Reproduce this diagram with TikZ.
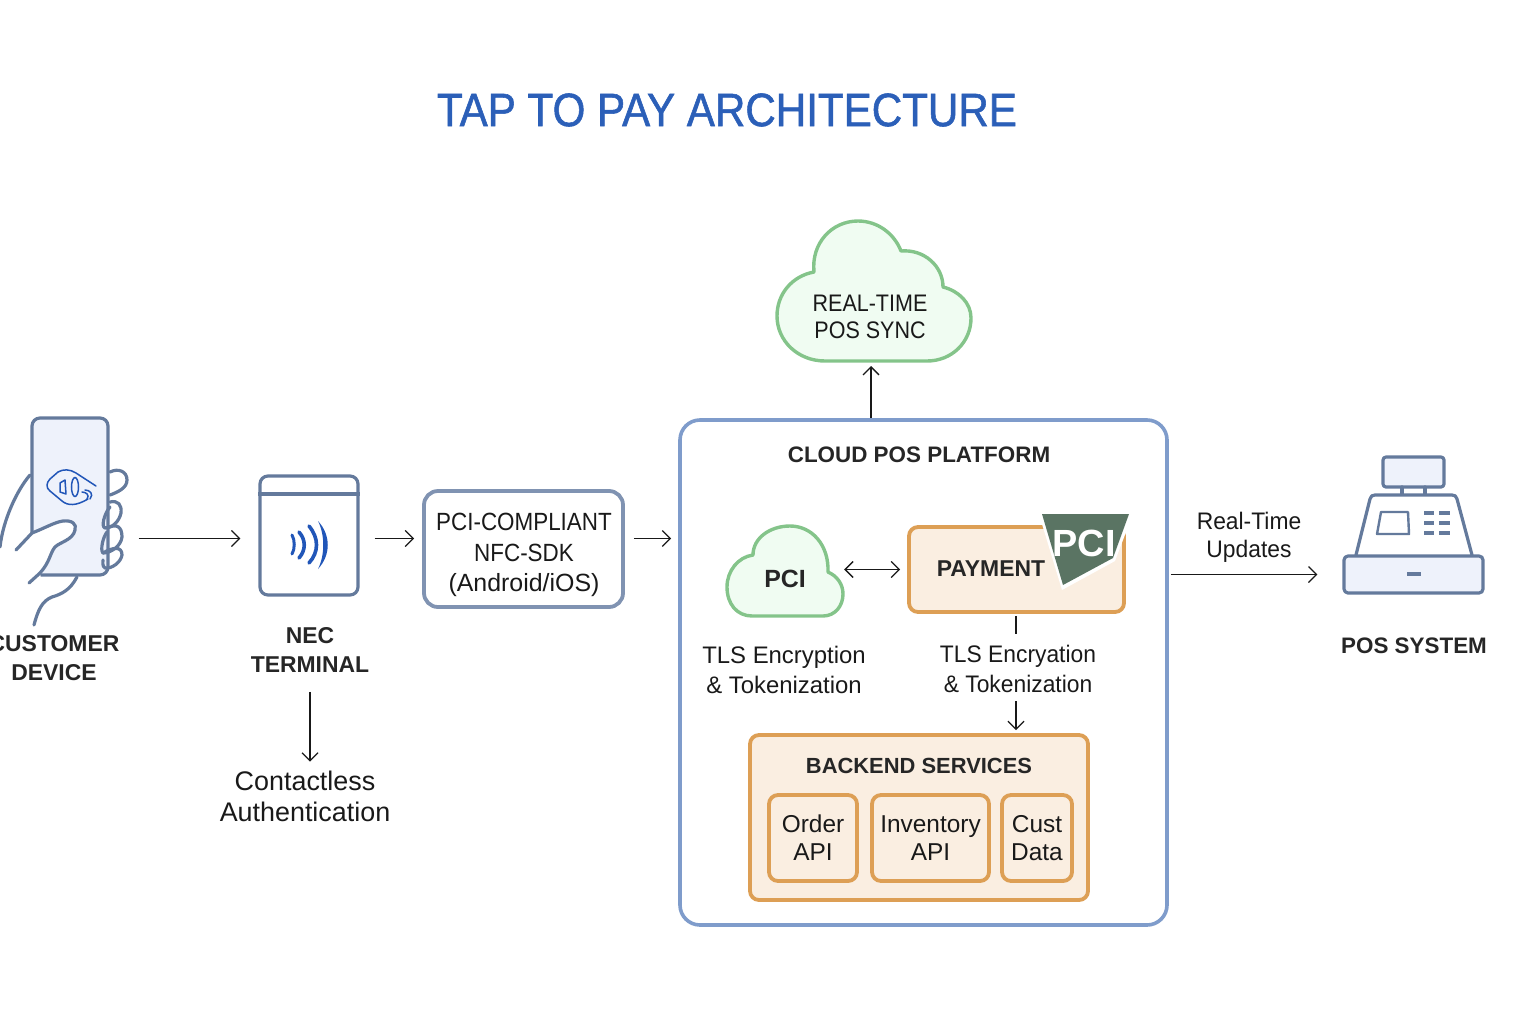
\documentclass[tikz,border=0pt]{standalone}
\usepackage{fontspec}
\setmainfont{Liberation Sans}
\newfontfamily\narrowfont[FakeStretch=0.9]{Liberation Sans}
\newfontfamily\slimfont[FakeStretch=0.955]{Liberation Sans}
\newfontfamily\titlefont[FakeStretch=0.9,FakeBold=1.2]{Liberation Sans}
\usetikzlibrary{arrows.meta}
\definecolor{titleblue}{HTML}{2B5FB8}
\definecolor{iconblue}{HTML}{647A9C}
\definecolor{iconfill}{HTML}{EEF2FB}
\definecolor{wave}{HTML}{2156B8}
\definecolor{platformblue}{HTML}{7F9CCB}
\definecolor{sdkgray}{HTML}{8093B2}
\definecolor{orangeline}{HTML}{DD9F55}
\definecolor{orangefill}{HTML}{FAEEE1}
\definecolor{greenline}{HTML}{84C48A}
\definecolor{greenfill}{HTML}{F0FCF2}
\definecolor{badge}{HTML}{5A7463}
\tikzset{
  bodytext/.style={font=\fontsize{24}{30}\selectfont,align=center,text=black!90},
  apitext/.style={font=\fontsize{24.5}{28}\selectfont,align=center,text=black!90},
  headtext/.style={font=\fontsize{23}{29}\selectfont\bfseries,align=center,text=black!85},
  icon/.style={draw=iconblue,line width=3.2bp,line cap=round,line join=round},
  box/.style={draw=orangeline,fill=orangefill,line width=3.8bp,rounded corners=9bp,inner sep=0pt},
  flow/.style={-{Straight Barb[length=8bp,width=16bp]},line width=1.3bp,black!90},
  cloudline/.style={draw=greenline,fill=greenfill,line width=3.4bp,line join=round}
}
\begin{document}
\begin{tikzpicture}[x=1bp,y=-1bp]
\useasboundingbox (0,0) rectangle (1536,1024);
\node[font=\fontsize{47}{50}\selectfont\titlefont,text=titleblue] (title) at (727,110) {TAP TO PAY ARCHITECTURE};

% customer device
\node[icon,fill=iconfill,rounded corners=8bp,minimum width=76bp,minimum height=157bp,inner sep=0pt] (phone) at (70,496.5) {};
\fill[white] (32,533) .. controls (45,528) and (55,522) .. (63,521) .. controls (72,520) and (77,524) .. (75,530) .. controls (73,540) and (60,542) .. (55,547) .. controls (50,553) and (50,562) .. (40,573) -- (43,590) -- (0,590) -- (0,533) -- cycle;
\draw[icon] (30,475) .. controls (17,490) and (3,520) .. (0,547);
\draw[icon] (16,550) -- (32,533) .. controls (45,528) and (55,522) .. (63,521) .. controls (72,520) and (77,524) .. (75,530) .. controls (73,540) and (60,542) .. (55,547) .. controls (50,553) and (50,562) .. (40,573) -- (29,583);
\draw[icon] (77,577) .. controls (70,590) and (62,594) .. (52,597) .. controls (42,601) and (38,610) .. (34,625);
\draw[icon] (110,472) .. controls (118,468) and (127,471) .. (127,480) .. controls (127,488) and (118,492) .. (110,495);
\draw[icon] (110,502) .. controls (118,500) and (122,505) .. (121,513) .. controls (119,522) and (112,528) .. (105,528) .. controls (101,527) and (104,514) .. (110,507);
\draw[icon] (107,528) .. controls (117,523) and (122,527) .. (122,537) .. controls (121,546) and (111,553) .. (103,553) .. controls (100,550) and (103,537) .. (107,532);
\draw[icon] (103,553) .. controls (113,547) and (122,546) .. (122,555) .. controls (121,562) and (112,569) .. (105,568) .. controls (102,566) and (103,562) .. (103,560);
\draw[wave,line width=1.5bp,line join=round,line cap=round] (96,486) -- (76,473) .. controls (70,469) and (63,469) .. (58,472) -- (50,479) .. controls (46,483) and (46,488) .. (50,491) -- (62,501) .. controls (68,506) and (76,506) .. (88,499);
\draw[wave,line width=1.5bp,line join=round] (60,483) -- (65,480) -- (66,494) -- (60,492) -- cycle;
\draw[wave,line width=1.5bp] (75,487) ellipse (3.5bp and 9.5bp);
\draw[wave,line width=1.5bp,line cap=round] (82,492) .. controls (86,492) and (90,495) .. (87,499);
\draw[wave,line width=1.5bp,line cap=round] (85,490) .. controls (90,490) and (94,494) .. (90,499);
\node[headtext] (customer) at (54,658) {CUSTOMER\\DEVICE};

% terminal
\node[icon,rounded corners=8bp,minimum width=98bp,minimum height=119bp,inner sep=0pt] (terminal) at (309,535.5) {};
\draw[icon,line cap=butt] (terminal.west |- 0,494) -- (terminal.east |- 0,494);
\draw[wave,line width=3bp,line cap=round] (292,535) .. controls (295,540) and (295,549) .. (292,554);
\draw[wave,line width=3.6bp,line cap=round] (299,532) .. controls (306,540) and (306,550) .. (299,558);
\draw[wave,line width=3.6bp,line cap=round] (309,526) .. controls (319,538) and (319,552) .. (309,563);
\fill[wave] (318,521) .. controls (331,535) and (331,555) .. (318,569) .. controls (325,555) and (325,535) .. (318,521) -- cycle;
\node[headtext] (nec) at (310,650) {NEC\\TERMINAL};
\node[bodytext,font=\fontsize{27}{31}\selectfont] (contactless) at (305,796.5) {Contactless\\Authentication};

% sdk
\node[draw=sdkgray,line width=3.8bp,rounded corners=14bp,minimum width=199bp,minimum height=116bp,inner sep=0pt] (sdk) at (523.5,549) {};
\node[bodytext,font=\fontsize{25}{30.5}\selectfont] (sdklabel) at (524,555) {{\narrowfont PCI-COMPLIANT}\\{\narrowfont NFC-SDK}\\(Android/iOS)};

% cloud platform
\node[draw=platformblue,line width=3.6bp,rounded corners=20bp,minimum width=487bp,minimum height=505bp,inner sep=0pt] (platform) at (923.5,672.5) {};
\node[headtext,font=\fontsize{22.5}{29}\selectfont\bfseries] (platformtitle) at (919,455) {CLOUD POS PLATFORM};

\node[minimum width=116bp,minimum height=91bp,inner sep=0pt] (pcicloud) at (785,571) {};
\draw[cloudline] (753,555) .. controls (738,557) and (727,571) .. (727,587) .. controls (727,604) and (737,616) .. (752,616) -- (823,616) .. controls (835,616) and (843,606) .. (843,594) .. controls (843,584) and (837,576) .. (828,572) .. controls (829,545) and (812,526) .. (790,526) .. controls (770,526) and (753,538) .. (753,555) -- cycle;
\node[headtext,font=\fontsize{25}{29}\selectfont\bfseries] (pcilabel) at (785,579) {PCI};

\node[box,minimum width=215bp,minimum height=85bp] (payment) at (1016.5,569.5) {};
\node[headtext] (paymentlabel) at (991,569) {PAYMENT};
\fill[white] (1038,511) -- (1134,511) -- (1115,561) -- (1062,590) -- cycle;
\fill[badge] (1042,514) -- (1129,514) -- (1113,558) -- (1063,585) -- cycle;
\node[font=\fontsize{38}{40}\selectfont\bfseries,text=white] (badgelabel) at (1084,543) {PCI};

\node[bodytext] (tlsleft) at (784,670) {TLS Encryption\\\& Tokenization};
\node[bodytext,font=\fontsize{24}{30}\selectfont\slimfont] (tlsright) at (1018,669) {TLS Encryation\\\& Tokenization};

\node[box,minimum width=338bp,minimum height=165bp] (backend) at (919,817.5) {};
\node[headtext,font=\fontsize{22}{29}\selectfont\bfseries] (backendlabel) at (919,766) {BACKEND SERVICES};
\node[box,apitext,minimum width=88bp,minimum height=86bp,text depth=0pt] (orderapi) at (813,838) {Order\\API};
\node[box,apitext,minimum width=117bp,minimum height=86bp,text depth=0pt] (inventoryapi) at (930.5,838) {Inventory\\API};
\node[box,apitext,minimum width=70bp,minimum height=86bp,text depth=0pt] (custdata) at (1037,838) {Cust\\Data};

% realtime sync
\node[minimum width=194bp,minimum height=141bp,inner sep=0pt] (synccloud) at (874,291.5) {};
\draw[cloudline] (814,272) .. controls (792,276) and (777,294) .. (777,316) .. controls (777,341) and (798,361) .. (825,361) -- (927,361) .. controls (952,361) and (971,342) .. (971,318) .. controls (971,303) and (959,291) .. (943,287) .. controls (943,266) and (924,249) .. (901,251) .. controls (894,233) and (877,221) .. (858,221) .. controls (832,221) and (811,243) .. (814,272) -- cycle;
\node[bodytext,font=\fontsize{24}{27}\selectfont\narrowfont] (synclabel) at (870,316.5) {REAL-TIME\\POS SYNC};

% pos system
\node[icon,fill=iconfill,rounded corners=3bp,minimum width=61bp,minimum height=30bp,inner sep=0pt] (monitor) at (1413.5,472) {};
\draw[icon] (1402,487) -- (1402,495);
\draw[icon] (1425,487) -- (1425,495);
\draw[icon,fill=white] (1356,555) -- (1370,499) .. controls (1371,496) and (1372,495) .. (1375,495) -- (1452,495) .. controls (1455,495) and (1456,496) .. (1457,499) -- (1472,555);
\draw[icon,fill=white,line width=2.4bp] (1381,512) -- (1408,512) -- (1409,534) -- (1377,534) -- cycle;
\foreach \y in {513,523,533} {
  \draw[icon,line cap=butt,line width=3.4bp] (1424,\y) -- (1434,\y);
  \draw[icon,line cap=butt,line width=3.4bp] (1439,\y) -- (1450,\y);
}
\node[icon,fill=iconfill,rounded corners=4bp,minimum width=139bp,minimum height=37bp,inner sep=0pt] (drawer) at (1413.5,574.5) {};
\draw[icon,line cap=butt,line width=3.8bp] (1407,574) -- (1421,574);
\node[headtext,font=\fontsize{22.5}{29}\selectfont\bfseries] (possystem) at (1414,646) {POS SYSTEM};
\node[bodytext,font=\fontsize{24}{28}\selectfont\slimfont] (updates) at (1249,537) {Real-Time\\Updates};

% connectors
\coordinate (mainrow) at (0,538.5);
\coordinate (syncbottom) at (871,366);
\coordinate (tlsdrop) at (1016,0);
\draw[flow,shorten <=29bp,shorten >=18bp] (phone.east |- mainrow) -- (terminal.west |- mainrow);
\draw[flow,shorten <=15bp,shorten >=8bp] (terminal.east |- mainrow) -- (sdk.west |- mainrow);
\draw[flow,shorten <=9bp,shorten >=7bp] (sdk.east |- mainrow) -- (platform.west |- mainrow);
\draw[flow] (platform.north -| syncbottom) -- (syncbottom);
\draw[flow,shorten <=2bp] (platform.east |- drawer.west) -- ([xshift=-25bp]drawer.west);
\draw[flow,shorten <=16bp,shorten >=6bp] (nec.south -| 310,0) -- (contactless.north -| 310,0);
\draw[flow,{Straight Barb[length=8bp,width=16bp]}-{Straight Barb[length=8bp,width=16bp]},shorten <=1bp,shorten >=7bp] (pcicloud.east |- payment.west) -- (payment.west);
\draw[line width=1.3bp,black!90,shorten <=2bp,shorten >=8bp] (payment.south -| tlsdrop) -- (tlsright.north -| tlsdrop);
\draw[flow,shorten <=5bp,shorten >=3bp] (tlsright.south -| tlsdrop) -- (backend.north -| tlsdrop);
\end{tikzpicture}
\end{document}
